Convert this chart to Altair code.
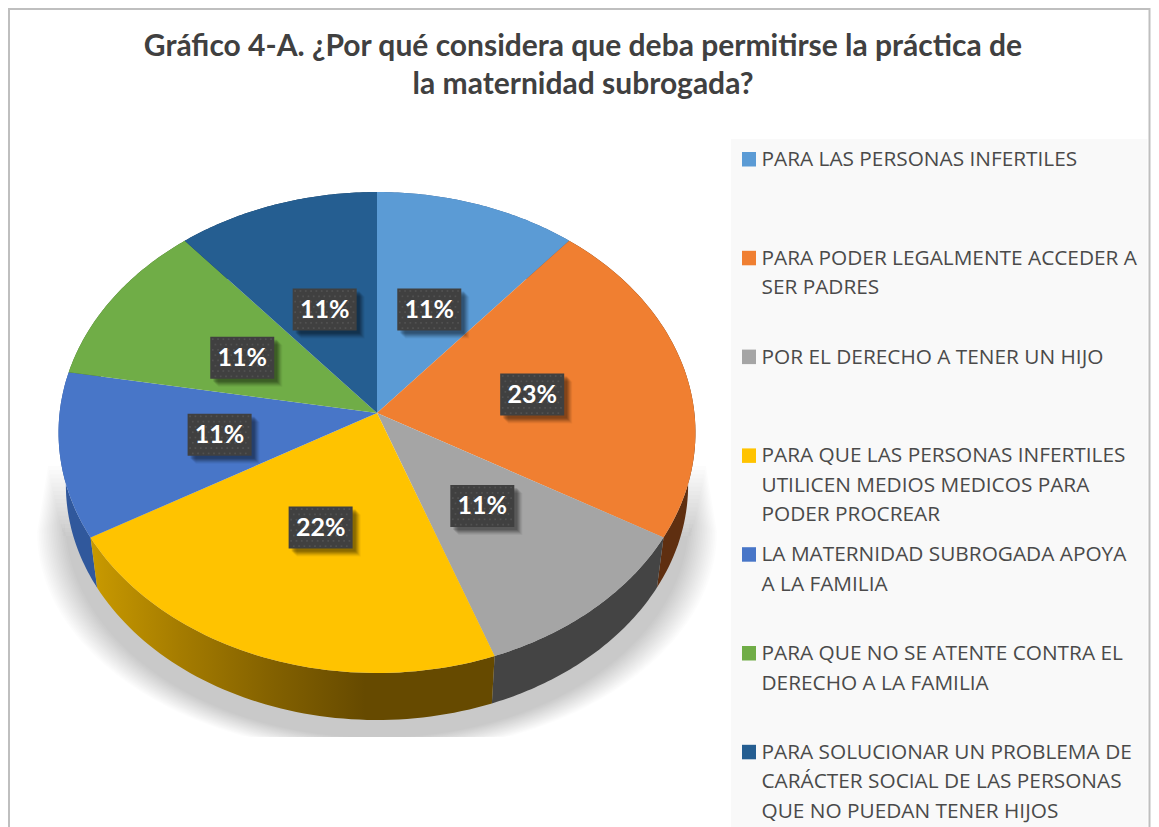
import numpy as np
import pandas as pd
import altair as alt

TITLE_LINES = ["Gráfico 4-A. ¿Por qué considera que deba permitirse la práctica de",
               "la maternidad subrogada?"]
ENTRIES = [
    ["PARA LAS PERSONAS INFERTILES"],
    ["PARA PODER LEGALMENTE ACCEDER A", "SER PADRES"],
    ["POR EL DERECHO A TENER UN HIJO"],
    ["PARA QUE LAS PERSONAS INFERTILES", "UTILICEN MEDIOS MEDICOS PARA", "PODER PROCREAR"],
    ["LA MATERNIDAD SUBROGADA APOYA", "A LA FAMILIA"],
    ["PARA QUE NO SE ATENTE CONTRA EL", "DERECHO A LA FAMILIA"],
    ["PARA SOLUCIONAR UN PROBLEMA DE", "CARÁCTER SOCIAL DE LAS PERSONAS", "QUE NO PUEDAN TENER HIJOS"],
]
SHARES = [11.11, 22.22, 11.11, 22.22, 11.11, 11.11, 11.12]
LABELS = ["11%", "23%", "11%", "22%", "11%", "11%", "11%"]
TOP_COLORS = ["#5b9bd5", "#f07f31", "#a5a5a5", "#ffc300", "#4876c8", "#70ad47", "#255e91"]
WALL_COLORS = ["#376092", "#5f2f10", "#444444", "#664a00", "#30589c", "#43682b", "#163a5a"]

W, H = 1143, 819
CX, CY, A, B, K = 377.0, 413.0, 317.4, 238.9, 0.0811
S, DY = 0.977, 53.0


def top_pt(theta, r=1.0):
    u, v = np.sin(theta), -np.cos(theta)
    d = 1 - K * r * v
    return CX + A * r * u / d, CY + B * r * v / d


def bottom_pt(theta):
    x, y = top_pt(theta)
    return CX + S * (x - CX), CY + S * (y - CY) + DY


edges = np.radians(np.cumsum([0] + SHARES) * 3.6)
top_rows, wall_rows = [], []
for k in range(len(SHARES)):
    th = np.linspace(edges[k], edges[k + 1], 60)
    xs, ys = top_pt(th)
    bx, by = bottom_pt(th)
    pts = [(CX, CY)] + list(zip(xs, ys))
    for i, (x, y) in enumerate(pts):
        top_rows.append(dict(k=k, i=i, x=x, y=y, c=TOP_COLORS[k]))
    wpts = list(zip(xs, ys)) + list(zip(bx[::-1], by[::-1]))
    for i, (x, y) in enumerate(wpts):
        wall_rows.append(dict(k=k, i=i, x=x, y=y, c=WALL_COLORS[k]))
top_df = pd.DataFrame(top_rows)
wall_df = pd.DataFrame(wall_rows)

# soft shadow below the pie: nested outlines, straight flanks, flat cut at the bottom
shadow_rows = []
N = 18
phi = np.linspace(0, np.pi, 120)
for n in range(N):
    f = n / (N - 1)
    a = 340 - 28 * f
    c = 532 - 12 * f
    b = 222 - 4 * f
    top_y = 466 + 70 * f
    top_a = a - (c - top_y) * 10 / 60
    sx = CX + a * np.cos(phi)
    sy = np.minimum(c + b * np.sin(phi), 737)
    sx = np.concatenate([sx, [CX - top_a, CX + top_a]])
    sy = np.concatenate([sy, [top_y, top_y]])
    for i, (x, y) in enumerate(zip(sx, sy)):
        shadow_rows.append(dict(n=n, i=i, x=x, y=y))
shadow_df = pd.DataFrame(shadow_rows)

# data labels
mid = (edges[:-1] + edges[1:]) / 2
lx, _ = top_pt(mid, 0.5)
_, ly = top_pt(mid, 0.485)
ly = ly + 1.5
lab_df = pd.DataFrame(dict(x=lx, y=ly, t=LABELS))
LW, LH = 64, 42
box_df = lab_df.assign(x0=lx - LW / 2, x1=lx + LW / 2, y0=ly - LH / 2, y1=ly + LH / 2)
dot_rows = []
for cx_, cy_ in zip(lx, ly):
    for r_, yy in enumerate(np.arange(-LH / 2 + 2.5, LH / 2, 5.3)):
        for xx in np.arange(-LW / 2 + 2.5 + (r_ % 2) * 2.65, LW / 2 - 1, 5.3):
            dot_rows.append(dict(x=cx_ + xx, y=cy_ + yy))
dot_df = pd.DataFrame(dot_rows)

# legend
leg_txt, leg_sw = [], []
for e, lines in enumerate(ENTRIES):
    y0 = 159 + 98.8 * e
    leg_sw.append(dict(x0=742, x1=756, y0=y0 - 7, y1=y0 + 7.5, c=TOP_COLORS[e]))
    for j, line in enumerate(lines):
        leg_txt.append(dict(x=761.5, y=y0 + 1 + 29.5 * j, t=line))
leg_txt = pd.DataFrame(leg_txt)
leg_sw = pd.DataFrame(leg_sw)

title_df = pd.DataFrame(dict(x=[583, 583], y=[47, 85], t=TITLE_LINES))

xscale = alt.Scale(domain=[8, 8 + W], range=[0, W])
yscale = alt.Scale(domain=[8, 8 + H], range=[0, H])
X = alt.X("x:Q", scale=xscale, axis=None)
Y = alt.Y("y:Q", scale=yscale, axis=None)
X0 = alt.X("x0:Q", scale=xscale, axis=None)
Y0 = alt.Y("y0:Q", scale=yscale, axis=None)
ORDER = alt.Order("i:Q")

frame = alt.Chart(pd.DataFrame(dict(x0=[9], x1=[1149.5], y0=[9], y1=[860]))).mark_rect(
    fill="white", stroke="#bfbfbf", strokeWidth=2, clip=True
).encode(x=X0, x2="x1:Q", y=Y0, y2="y1:Q")

legend_bg = alt.Chart(pd.DataFrame(dict(x0=[731], x1=[1147.5], y0=[139], y1=[827]))).mark_rect(
    color="#f9f9f9"
).encode(x=X0, x2="x1:Q", y=Y0, y2="y1:Q")

shadow = alt.Chart(shadow_df).mark_line(
    filled=True, color="black", opacity=0.0125, interpolate="linear-closed", strokeWidth=0
).encode(x=X, y=Y, detail="n:N", order=ORDER)

walls = alt.Chart(wall_df[wall_df.k != 3]).mark_line(
    filled=True, interpolate="linear-closed", strokeWidth=0
).encode(x=X, y=Y, color=alt.Color("c:N", scale=None), detail="k:N", order=ORDER)

yellow_wall = alt.Chart(wall_df[wall_df.k == 3]).mark_line(
    filled=True, interpolate="linear-closed", strokeWidth=0,
    color=alt.Gradient(gradient="linear", x1=0, x2=1, y1=0, y2=0, stops=[
        alt.GradientStop(color="#c99a00", offset=0),
        alt.GradientStop(color="#a57c00", offset=0.22),
        alt.GradientStop(color="#836100", offset=0.45),
        alt.GradientStop(color="#664a00", offset=0.68),
        alt.GradientStop(color="#664a00", offset=1),
    ]),
).encode(x=X, y=Y, order=ORDER)

tops = alt.Chart(top_df).mark_line(
    filled=True, interpolate="linear-closed", strokeWidth=0
).encode(x=X, y=Y, color=alt.Color("c:N", scale=None), detail="k:N", order=ORDER)

shadows = []
for off, op in [(8, 0.05), (7, 0.07), (6, 0.09), (5, 0.11), (4, 0.12), (3, 0.12)]:
    shadows.append(
        alt.Chart(box_df.assign(x0=box_df.x0 + off, x1=box_df.x1 + off, y0=box_df.y0 + off, y1=box_df.y1 + off))
        .mark_rect(color="black", opacity=op)
        .encode(x=X0, x2="x1:Q", y=Y0, y2="y1:Q")
    )

boxes = alt.Chart(box_df).mark_rect(color="#404040").encode(x=X0, x2="x1:Q", y=Y0, y2="y1:Q")
dots = alt.Chart(dot_df).mark_square(size=3, color="#5e5e5e", opacity=0.6).encode(x=X, y=Y)
lab_text = alt.Chart(lab_df).mark_text(
    font="Lato", fontWeight="bold", fontSize=25, color="white", baseline="middle", align="center"
).encode(x=X, y=Y, text="t:N")

swatches = alt.Chart(leg_sw).mark_rect().encode(
    x=X0, x2="x1:Q", y=Y0, y2="y1:Q", color=alt.Color("c:N", scale=None)
)
legend_text = alt.Chart(leg_txt).mark_text(
    font="Open Sans", fontSize=20.8, color="#4a4a4a", align="left", baseline="middle"
).encode(x=X, y=Y, text="t:N")
title_text = alt.Chart(title_df).mark_text(
    font="Lato", fontWeight="bold", fontSize=30, color="#404040", align="center", baseline="middle"
).encode(x=X, y=Y, text="t:N")

chart = alt.layer(
    frame, legend_bg, shadow, walls, yellow_wall, tops, *shadows, boxes, dots, lab_text,
    swatches, legend_text, title_text,
).properties(width=W, height=H, padding=0, background="white").configure_view(stroke=None)

chart.save("out.html", embed_options={"renderer": "svg", "actions": False})
